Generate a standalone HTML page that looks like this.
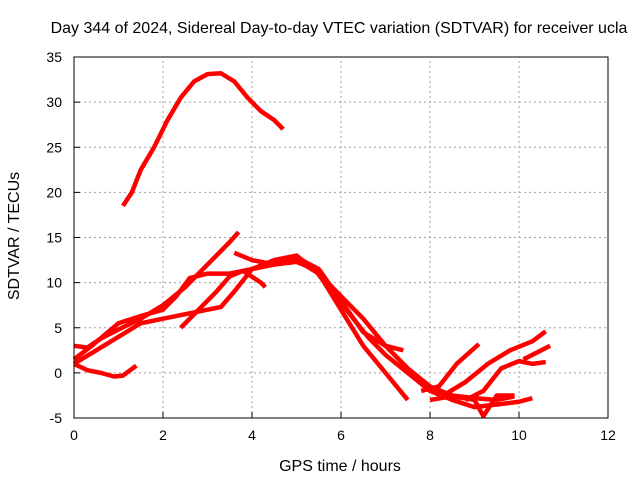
<!DOCTYPE html>
<html><head><meta charset="utf-8"><style>
body{margin:0;background:#fff;}
svg{display:block;font-family:"Liberation Sans",sans-serif;}
</style></head><body>
<svg id="c" width="640" height="480">
<text x="339" y="33" text-anchor="middle" font-size="16">Day 344 of 2024, Sidereal Day-to-day VTEC variation (SDTVAR) for receiver ucla</text>
<text x="340" y="471" text-anchor="middle" font-size="16">GPS time / hours</text>
<text transform="translate(19,236) rotate(-90)" text-anchor="middle" font-size="16">SDTVAR / TECUs</text>
<g id="grid"></g><g id="marks"></g><g id="axes"></g>
</svg>
<script>
const xTicks=[0,2,4,6,8,10,12];
const yTicks=[-5,0,5,10,15,20,25,30,35];
const arcA=[[1.1,18.5],[1.3,20],[1.5,22.5],[1.8,25],[2.1,28],[2.4,30.5],[2.7,32.3],[3.0,33.1],[3.3,33.2],[3.6,32.3],[3.9,30.5],[4.2,29],[4.5,28],[4.7,27]];
const arcB=[[0,1],[0.3,0.3],[0.6,0],[0.9,-0.4],[1.1,-0.3],[1.4,0.8]];
const arcC=[[0,3],[0.3,2.8],[0.6,3.8],[1.0,4.8],[1.5,6],[2.0,7.5],[2.5,9.5],[3.0,12],[3.5,14.5],[3.7,15.6]];
const arcD=[[0,1.5],[0.4,3],[1,5.5],[1.5,6.3],[2,7],[2.3,8.5],[2.6,10.5],[3,11],[3.5,11],[4,11.5],[4.5,12],[5,12.8],[5.5,11.5],[6,8],[6.5,4.5],[7,3],[7.4,2.5]];
const arcE=[[0,1],[0.5,2.5],[1,4],[1.5,5.5],[2,6],[2.5,6.5],[3,7],[3.3,7.3],[3.6,9],[4,11.5],[4.5,12.5],[5,12.5],[5.5,11],[6,7],[6.5,3],[7,0],[7.5,-3]];
const arcF=[[2.4,5],[2.8,7],[3.2,9],[3.5,10.7],[3.8,11.3],[4.2,10],[4.3,9.5]];
const arcG=[[3.6,13.3],[4,12.5],[4.5,12],[5,12.3],[5.4,11.5],[5.8,9],[6.2,6.5],[6.6,4],[7,2],[7.5,0],[8,-2],[8.5,-3],[9,-3.8],[9.5,-3.5],[10,-3.2],[10.3,-2.8]];
const arcH=[[4.5,12.5],[5,13],[5.5,11],[6,8.5],[6.5,6],[7,3],[7.5,0.5],[8,-1.5],[8.5,-2.5],[9,-2.8],[9.5,-3],[9.9,-2.6]];
const arcI=[[7.8,-2],[8.2,-1.5],[8.6,1],[9.1,3.2]];
const arcJ=[[8,-3],[8.5,-2.6],[9,-3],[9.2,-4.8],[9.5,-2.5],[9.9,-2.5]];
const arcK=[[8.3,-2.5],[8.8,-1],[9.3,1],[9.8,2.5],[10.3,3.5],[10.6,4.6]];
const arcL=[[8.8,-3],[9.2,-2],[9.6,0.5],[10,1.3],[10.3,1],[10.6,1.2]];
const arcM=[[10.1,1.5],[10.5,2.5],[10.7,3]];
const series=[arcA,arcB,arcC,arcD,arcE,arcF,arcG,arcH,arcI,arcJ,arcK,arcL,arcM];
const X0=74,X1=608,Y0=418,Y1=57;
const sx=v=>X0+(v-0)/12*(X1-X0);
const sy=v=>Y0-(v+5)/40*(Y0-Y1);
const NS='http://www.w3.org/2000/svg';
function mk(t,a,p){const e=document.createElementNS(NS,t);for(const k in a)e.setAttribute(k,a[k]);p.appendChild(e);return e;}
const grid=document.getElementById('grid'),axes=document.getElementById('axes'),marks=document.getElementById('marks');
xTicks.forEach(t=>{
 if(t>0&&t<12){const g=mk('line',{x1:sx(t),x2:sx(t),y1:Y0,y2:Y1,stroke:'#a0a0a0','stroke-dasharray':'2,3'},grid);
 
 }
 const tk=mk('line',{x1:sx(t),x2:sx(t),y1:Y0,y2:Y0-6,stroke:'#000'},axes);
 
 
 const l=mk('text',{x:sx(t),y:Y0+22,'text-anchor':'middle','font-size':14},axes);l.textContent=t;
 
 
});
yTicks.forEach(t=>{
 if(t>-5&&t<35){const g=mk('line',{x1:X0,x2:X1,y1:sy(t),y2:sy(t),stroke:'#a0a0a0','stroke-dasharray':'2,3'},grid);
 
 }
 const tk=mk('line',{x1:X0,x2:X0+6,y1:sy(t),y2:sy(t),stroke:'#000'},axes);
 
 
 const l=mk('text',{x:X0-12,y:sy(t)+5,'text-anchor':'end','font-size':14},axes);l.textContent=t;
 
 
});
const fr=mk('rect',{x:X0,y:Y1,width:X1-X0,height:Y0-Y1,fill:'none',stroke:'#000'},axes);


series.forEach(s=>{
 const p=mk('polyline',{points:s.map(d=>sx(d[0])+','+sy(d[1])).join(' '),fill:'none',stroke:'#f00','stroke-width':4.5,'stroke-linejoin':'round'},marks);
 
 
});
</script>
</body></html>
